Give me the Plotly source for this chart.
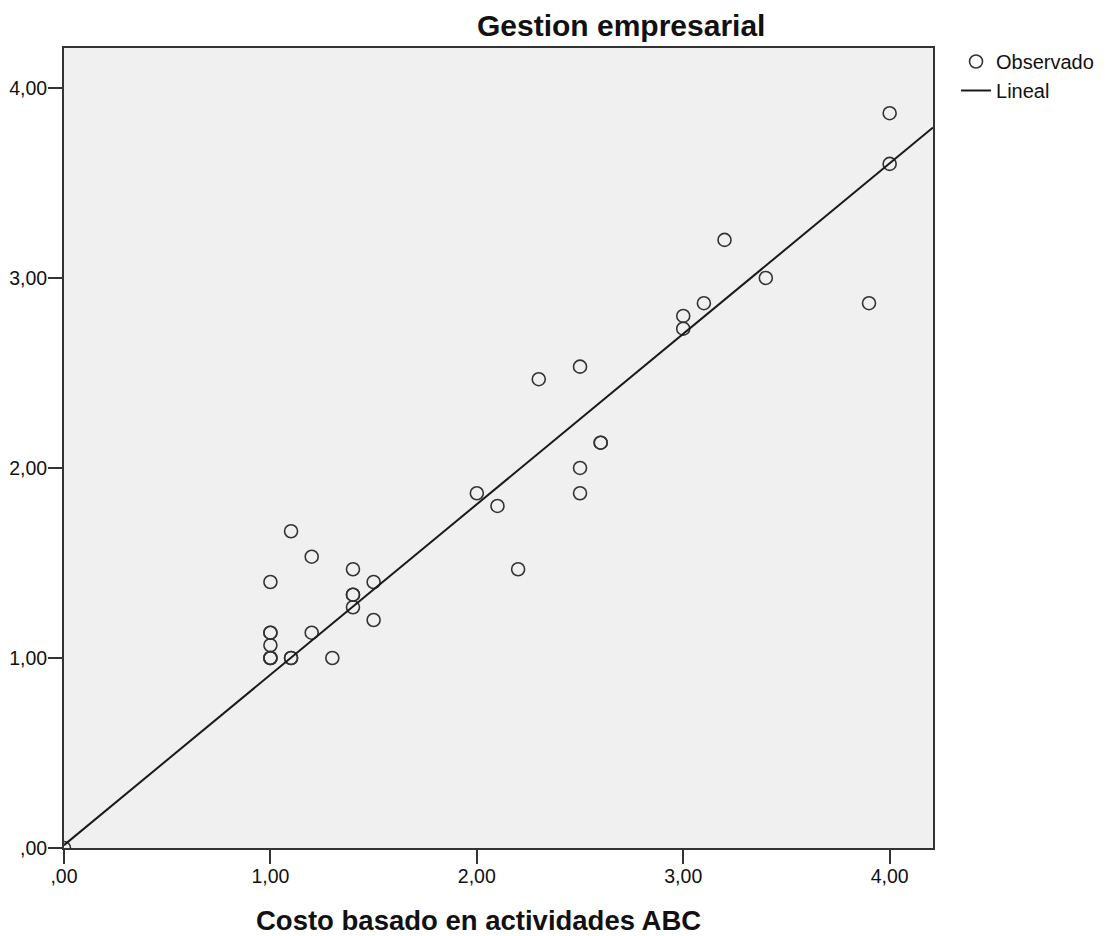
import plotly.graph_objects as go

# Observed values (Costo basado en actividades ABC vs Gestion empresarial)
abc_cost = [0.0, 1.0, 1.0, 1.0, 1.0, 1.0, 1.0, 1.0, 1.1, 1.1, 1.1, 1.2, 1.2, 1.3,
            1.4, 1.4, 1.4, 1.4, 1.5, 1.5, 2.0, 2.1, 2.2, 2.3, 2.5, 2.5, 2.5,
            2.6, 2.6, 3.0, 3.0, 3.1, 3.2, 3.4, 3.9, 4.0, 4.0]
gestion = [0.0, 1.0, 1.0, 1.067, 1.133, 1.133, 1.4, 1.0, 1.0, 1.0, 1.667, 1.533, 1.133, 1.0,
           1.467, 1.333, 1.333, 1.267, 1.4, 1.2, 1.867, 1.8, 1.467, 2.467, 2.533, 2.0, 1.867,
           2.133, 2.133, 2.8, 2.733, 2.867, 3.2, 3.0, 2.867, 3.867, 3.6]

# Linear fit
intercept = 0.015
slope = 0.897
axis_max = 4.21

tick_vals = [0, 1, 2, 3, 4]
tick_text = [',00', '1,00', '2,00', '3,00', '4,00']

FONT = 'Arial, Liberation Sans, sans-serif'

fig = go.Figure()

fig.add_trace(go.Scatter(
    x=abc_cost, y=gestion,
    mode='markers',
    name='Observado',
    marker=dict(symbol='circle-open', size=13, color='#333333', line=dict(width=1.6, color='#333333')),
))

line_x = [0, axis_max]
fig.add_trace(go.Scatter(
    x=line_x, y=[intercept + slope * v for v in line_x],
    mode='lines',
    name='Lineal',
    line=dict(color='#1a1a1a', width=2),
))

axis_style = dict(
    range=[0, axis_max],
    tickvals=tick_vals,
    ticktext=tick_text,
    ticks='outside',
    ticklen=14,
    tickwidth=2,
    tickcolor='#333333',
    showline=True,
    linecolor='#333333',
    linewidth=2,
    mirror=True,
    showgrid=False,
    zeroline=False,
    automargin=False,
    tickfont=dict(size=19.5, color='#111111', family=FONT),
)

# page body adds an 8px offset, so the figure is a bit smaller than the window
fig.update_layout(
    width=1107,
    height=928,
    plot_bgcolor='#F0F0F0',
    paper_bgcolor='#FFFFFF',
    font=dict(family=FONT, color='#111111'),
    margin=dict(l=56, r=182, t=40, b=88),
    xaxis=dict(axis_style, ticklabelstandoff=-4),
    yaxis=dict(axis_style, ticklabelstandoff=-3),
    showlegend=True,
    legend=dict(
        x=1.0265, y=1.0075, xanchor='left', yanchor='top',
        font=dict(size=20, color='#111111', family=FONT),
        bgcolor='rgba(0,0,0,0)',
        tracegroupgap=0,
    ),
    annotations=[
        dict(text='<b>Gestion empresarial</b>', xref='paper', yref='paper',
             x=0.641, y=1.05, xanchor='center', yanchor='top', showarrow=False,
             borderpad=0, font=dict(size=30, color='#111111', family=FONT)),
        dict(text='<b>Costo basado en actividades ABC</b>', xref='paper', yref='paper',
             x=0.477, y=-0.09, xanchor='center', yanchor='middle', showarrow=False,
             font=dict(size=27.5, color='#111111', family=FONT)),
    ],
)

fig.write_html("out.html")
